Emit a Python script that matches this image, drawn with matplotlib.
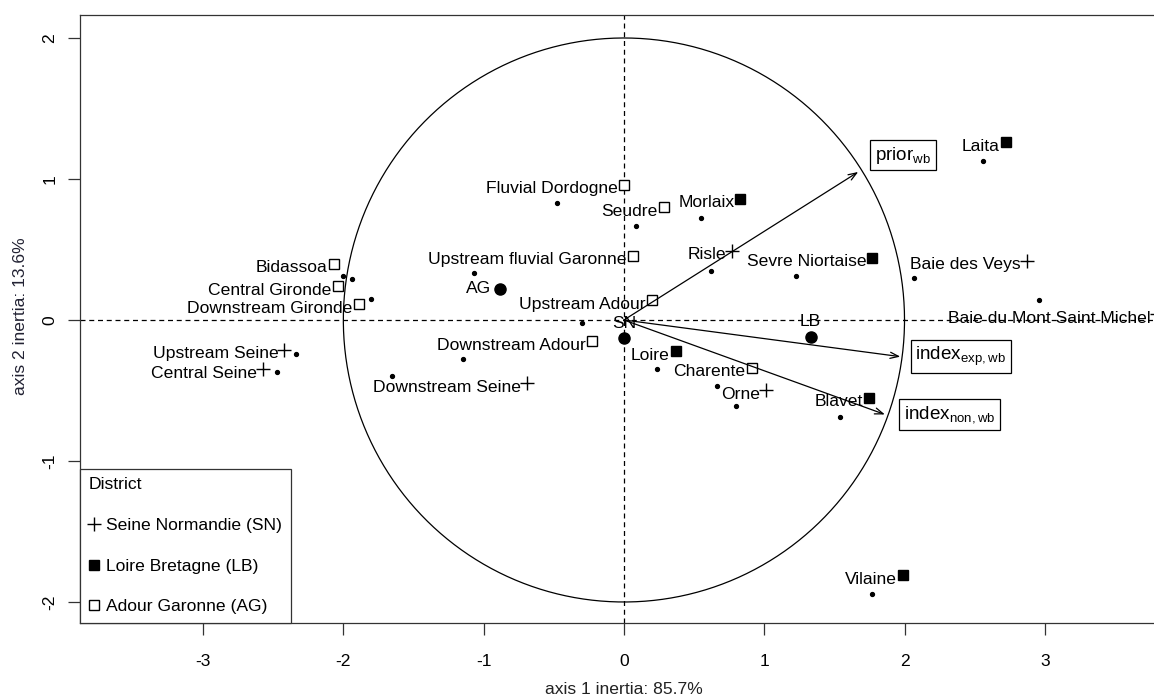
import numpy as np
import matplotlib
matplotlib.use("Agg")
import matplotlib.pyplot as plt
from matplotlib.lines import Line2D

plt.rcParams['font.family'] = ['Liberation Sans', 'DejaVu Sans']
plt.rcParams['mathtext.fontset'] = 'custom'
plt.rcParams['mathtext.rm'] = 'Liberation Sans'
plt.rcParams['mathtext.it'] = 'Liberation Sans'

FS = 12.6

# site names, district, symbol position and site score (small dot)
sites = ["Laita", "Fluvial Dordogne", "Seudre", "Morlaix", "Risle", "Sevre Niortaise",
         "Baie des Veys", "Baie du Mont Saint Michel", "Upstream fluvial Garonne",
         "Upstream Adour", "Bidassoa", "Central Gironde", "Downstream Gironde",
         "Upstream Seine", "Central Seine", "Downstream Adour", "Downstream Seine",
         "Loire", "Charente", "Orne", "Blavet", "Vilaine"]
district = ["LB", "AG", "AG", "LB", "SN", "LB",
            "SN", "SN", "AG",
            "AG", "AG", "AG", "AG",
            "SN", "SN", "AG", "SN",
            "LB", "AG", "SN", "LB", "LB"]
sym_x = [2.72, 0.00, 0.285, 0.83, 0.77, 1.77,
         2.87, 3.80, 0.064,
         0.20, -2.07, -2.04, -1.89,
         -2.42, -2.57, -0.23, -0.69,
         0.37, 0.91, 1.01, 1.75, 1.99]
sym_y = [1.26, 0.96, 0.80, 0.86, 0.49, 0.44,
         0.42, 0.04, 0.454,
         0.14, 0.40, 0.24, 0.11,
         -0.21, -0.35, -0.15, -0.45,
         -0.22, -0.34, -0.50, -0.55, -1.81]
dot_x = [2.56, -0.48, 0.086, 0.55, 0.62, 1.23,
         2.07, 2.96, -1.07,
         -0.30, -2.00, -1.94, -1.80,
         -2.34, -2.47, -1.15, -1.65,
         0.235, 0.66, 0.80, 1.54, 1.77]
dot_y = [1.13, 0.83, 0.67, 0.72, 0.35, 0.31,
         0.30, 0.14, 0.33,
         -0.02, 0.31, 0.29, 0.15,
         -0.24, -0.37, -0.28, -0.40,
         -0.35, -0.47, -0.61, -0.69, -1.94]

# district centroids
cent_names = ["AG", "SN", "LB"]
cent_x = [-0.88, 0.0, 1.33]
cent_y = [0.22, -0.13, -0.12]

# variable arrows (correlation circle radius 2)
var_labels = [r"prior$_{\mathrm{wb}}$", r"index$_{\mathrm{exp,wb}}$", r"index$_{\mathrm{non,wb}}$"]
var_x = [1.67, 1.97, 1.86]
var_y = [1.05, -0.26, -0.67]
var_lab_x = [1.99, 2.40, 2.32]
var_lab_y = [1.17, -0.26, -0.67]

district_names = {"SN": "Seine Normandie (SN)", "LB": "Loire Bretagne (LB)", "AG": "Adour Garonne (AG)"}
district_style = {"SN": dict(marker="+", mfc="none", mec="black", ms=9.5, mew=1.0),
                  "LB": dict(marker="s", mfc="black", mec="black", ms=7.5, mew=1.0),
                  "AG": dict(marker="s", mfc="white", mec="black", ms=7.5, mew=1.0)}

fig = plt.figure(figsize=(11.54, 6.98), dpi=100)
ax = fig.add_axes([80/1154, (698-623)/698, (1160-80)/1154, (623-15)/698])
ax.set_xlim(-3.877, 3.821)
ax.set_ylim(-2.149, 2.163)

# reference lines and circle
ax.axhline(0, color="black", lw=0.9, dashes=(4, 3))
ax.axvline(0, color="black", lw=0.9, dashes=(4, 3))
th = np.linspace(0, 2*np.pi, 400)
ax.plot(2*np.cos(th), 2*np.sin(th), color="black", lw=0.9)

# arrows
for vx, vy, lab, lx, ly in zip(var_x, var_y, var_labels, var_lab_x, var_lab_y):
    ax.annotate("", xy=(vx, vy), xytext=(0, 0),
                arrowprops=dict(arrowstyle="->,head_length=0.6,head_width=0.22", color="black", lw=0.9,
                                shrinkA=0, shrinkB=0))
    ax.text(lx, ly, lab, fontsize=FS+1, ha="center", va="center",
            bbox=dict(boxstyle="square,pad=0.25", fc="white", ec="black", lw=0.9))

# site scores
ax.plot(dot_x, dot_y, "o", color="black", ms=2.8, ls="none")

# site symbols and labels
for name, d, x, y in zip(sites, district, sym_x, sym_y):
    ax.plot(x, y, ls="none", **district_style[d])
    ax.annotate(name, (x, y), xytext=(-6, -4), textcoords="offset pixels",
                ha="right", va="center", fontsize=FS)

# centroids
for name, x, y in zip(cent_names, cent_x, cent_y):
    ax.plot(x, y, "o", color="black", ms=8)
    if name == "AG":
        ax.annotate(name, (x, y), xytext=(-9, 0), textcoords="offset pixels",
                    ha="right", va="center", fontsize=FS)
    else:
        ax.annotate(name, (x, y), xytext=(0, 15), textcoords="offset pixels",
                    ha="center", va="center", fontsize=FS)

ax.set_xticks([-3, -2, -1, 0, 1, 2, 3])
ax.set_yticks([-2, -1, 0, 1, 2])
ax.set_xticklabels(["-3", "-2", "-1", "0", "1", "2", "3"])
ax.set_yticklabels(["-2", "-1", "0", "1", "2"], rotation=90, va="center")
ax.tick_params(direction="out", length=8.3, width=0.9, labelsize=FS, colors="#333333",
               labelcolor="black")
ax.tick_params(axis="x", pad=14)
ax.tick_params(axis="y", pad=8)
for s in ax.spines.values():
    s.set_linewidth(0.9)
    s.set_color("#333333")

fig.text(624/1154, 1-689/698, "axis 1 inertia: 85.7%", ha="center", va="center", fontsize=FS, color="#222222")
fig.text(21/1154, 1-316/698, "axis 2 inertia: 13.6%", ha="center", va="center", rotation=90,
         fontsize=FS, color="#222233")

handles = []
for d in ["SN", "LB", "AG"]:
    handles.append(Line2D([], [], ls="none", **district_style[d]))
leg = ax.legend(handles, [district_names[d] for d in ["SN", "LB", "AG"]], title="District",
                loc="lower left", bbox_to_anchor=(0, 0), borderaxespad=0, fancybox=False,
                edgecolor="#333333", framealpha=1, fontsize=FS, title_fontsize=FS,
                alignment="left", handlelength=0.65, handletextpad=0.35, labelspacing=1.45,
                borderpad=0.5)
leg.get_frame().set_linewidth(0.9)

fig.savefig("out.png", dpi=100)
